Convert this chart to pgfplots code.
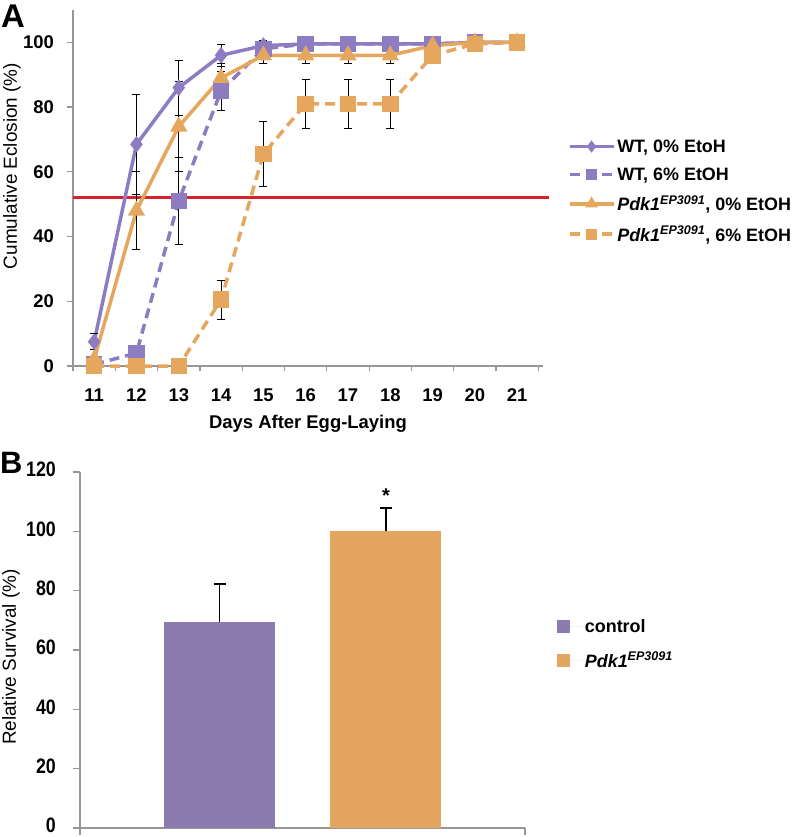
\documentclass[border=0pt]{standalone}
\usepackage{pgfplots}
\pgfplotsset{compat=1.18}
\usepackage{pgfplotstable}
\usepackage{graphicx}
\usepackage{fontspec}
\setmainfont{Liberation Sans}

\definecolor{wtpurple}{RGB}{142,124,195}
\definecolor{barpurple}{RGB}{139,123,174}
\definecolor{pdkorange}{RGB}{229,166,94}
\definecolor{barorange}{RGB}{227,165,95}
\definecolor{redline}{RGB}{214,35,43}
\definecolor{axisgray}{RGB}{150,150,150}

\pgfplotstableread{
x y e
11 7.5 2.5
12 68.5 15.5
13 86 8.5
14 96 3.5
15 99 1.5
16 99.5 0
17 99.5 0
18 99.5 0
19 99.5 0
20 100 0
21 100 0
}\wtzero
\pgfplotstableread{
x y e
11 0.5 0
12 4 2.5
13 51 13.5
14 85 6
15 98 1.5
16 99.5 0
17 99.5 0
18 99.5 0
19 99.5 0
20 100 0
21 100 0
}\wtsix
\pgfplotstableread{
x y e
11 2 0
12 48 12
13 74 14
14 89 4.5
15 96 2.5
16 96 2.5
17 96 2.5
18 96 2.5
19 99 0
20 100 0
21 100 0
}\pdkzero
\pgfplotstableread{
x y e
11 0 0
12 0 0
13 0 0
14 20.5 6
15 65.5 10
16 81 7.5
17 81 7.5
18 81 7.5
19 96 0
20 99.5 0
21 100 0
}\pdksix

\newcommand{\pdk}{\textit{Pdk1}\textsuperscript{\textit{EP3091}}}

\begin{document}
\begin{tikzpicture}
\useasboundingbox (0,0) rectangle (793bp,-837bp);

\node[anchor=base west, inner sep=0pt] at (1bp,-27bp) {\bfseries\fontsize{33}{33}\selectfont A};
\node[anchor=base west, inner sep=0pt] at (0bp,-473bp) {\bfseries\fontsize{31}{31}\selectfont B};

\begin{axis}[
  at={(73bp,-366bp)}, anchor=south west,
  scale only axis, width=470bp, height=356bp,
  xmin=10.5, xmax=21.61, ymin=0, ymax=110,
  clip=false,
  axis lines=left, axis line style={-, axisgray, line width=1.2bp},
  tick style={axisgray, line width=1.2bp},
  tick align=outside,
  xtick={11,...,21}, minor xtick={10.5,11.5,...,21.5},
  major x tick style={draw=none},
  minor tick length=5bp, major tick length=6bp,
  ytick={0,20,...,100},
  /pgf/number format/assume math mode=true,
  tick label style={font=\bfseries\fontsize{18.5}{20}\selectfont},
  xticklabel style={anchor=center, yshift=-23.5bp},
  yticklabel style={anchor=east, inner xsep=0pt, xshift=-13bp},
  xlabel={\bfseries Days After Egg-Laying},
  xlabel style={font=\fontsize{18.5}{20}\selectfont, at={(rel axis cs:0.5,0)}, anchor=center, yshift=-58bp},
  ylabel={Cumulative Eclosion (\%)},
  ylabel style={font=\fontsize{19}{20}\selectfont, at={(rel axis cs:-0.13,0.562)}, anchor=center},
  legend style={at={(rel axis cs:1.046,0.648)}, anchor=north west, draw=none, fill=none,
    font=\bfseries\fontsize{18}{20}\selectfont, row sep=10bp},
  legend cell align=left,
  legend image code/.code={\draw[mark repeat=2,mark phase=2,#1,every mark/.append style={scale=0.6}] plot coordinates {(0bp,0bp)(22bp,0bp)(44bp,0bp)};},
  error bars/y dir=both, error bars/y explicit,
  error bars/error bar style={solid, black, line width=0.9bp},
  error bars/error mark options={rotate=90, black, solid, mark size=4bp, line width=0.9bp},
]
\addplot[redline, line width=3bp, forget plot] coordinates {(10.5,52) (21.75,52)};

\addplot[wtpurple, line width=3.5bp, mark=diamond*, mark size=5.5bp, mark options={solid}]
  table[x=x, y=y, y error=e] {\wtzero};
\addlegendentry{WT, 0\% EtoH}
\addplot[wtpurple, line width=3.5bp, dash pattern=on 10bp off 6bp, mark=square*, mark size=6.5bp, mark options={solid}]
  table[x=x, y=y, y error=e] {\wtsix};
\addlegendentry{WT, 6\% EtOH}
\addplot[pdkorange, line width=3.5bp, mark=triangle*, mark size=6.5bp, mark options={solid}]
  table[x=x, y=y, y error=e] {\pdkzero};
\addlegendentry{\pdk, 0\% EtOH}
\addplot[pdkorange, line width=3.5bp, dash pattern=on 10bp off 6bp, mark=square*, mark size=6.5bp, mark options={solid}]
  table[x=x, y=y, y error=e] {\pdksix};
\addlegendentry{\pdk, 6\% EtOH}
\end{axis}

\begin{axis}[
  at={(80bp,-828bp)}, anchor=south west,
  scale only axis, width=445bp, height=356bp,
  xmin=-0.838, xmax=1.835, ymin=0, ymax=120,
  clip=false,
  axis lines=left, axis line style={-, axisgray, line width=1.2bp},
  tick style={axisgray, line width=1.2bp},
  tick align=outside, major tick length=7bp,
  xtick={-0.838,1.835}, xticklabels={,},
  ytick={0,20,...,120},
  /pgf/number format/assume math mode=true,
  yticklabel={\scalebox{0.85}[1]{\pgfmathprintnumber{\tick}}},
  yticklabel style={font=\bfseries\fontsize{21}{22}\selectfont, anchor=east, inner xsep=0pt, xshift=-17bp, yshift=2.5bp},
  ylabel={Relative Survival (\%)},
  ylabel style={font=\fontsize{19}{20}\selectfont, at={(rel axis cs:-0.155,0.48)}, anchor=center},
  legend style={at={(rel axis cs:1.06,0.597)}, anchor=north west, draw=none, fill=none,
    font=\bfseries\fontsize{18}{20}\selectfont, row sep=14bp},
  legend cell align=left,
]
\addplot[ybar, bar width=111bp, fill=barpurple, draw=none,
  legend image code/.code={\fill[barpurple] (2bp,-6.5bp) rectangle (15bp,6.5bp); \path (0bp,0bp) -- (28bp,0bp);},
  error bars/.cd, y dir=plus, y explicit,
  error bar style={black, line width=1.5bp},
  error mark options={rotate=90, black, mark size=6bp, line width=1.5bp}]
  coordinates {(0,69.5) +- (0,12.7)};
\addlegendentry{control}
\addplot[ybar, bar width=111bp, fill=barorange, draw=none,
  legend image code/.code={\fill[barorange] (2bp,-6.5bp) rectangle (15bp,6.5bp); \path (0bp,0bp) -- (28bp,0bp);},
  error bars/.cd, y dir=plus, y explicit,
  error bar style={black, line width=1.5bp},
  error mark options={rotate=90, black, mark size=6bp, line width=1.5bp}]
  coordinates {(1,100) +- (0,7.8)};
\addlegendentry{\pdk}
\node[anchor=center] at (axis cs:1,112) {\bfseries\fontsize{20}{20}\selectfont *};
\end{axis}
\end{tikzpicture}
\end{document}
